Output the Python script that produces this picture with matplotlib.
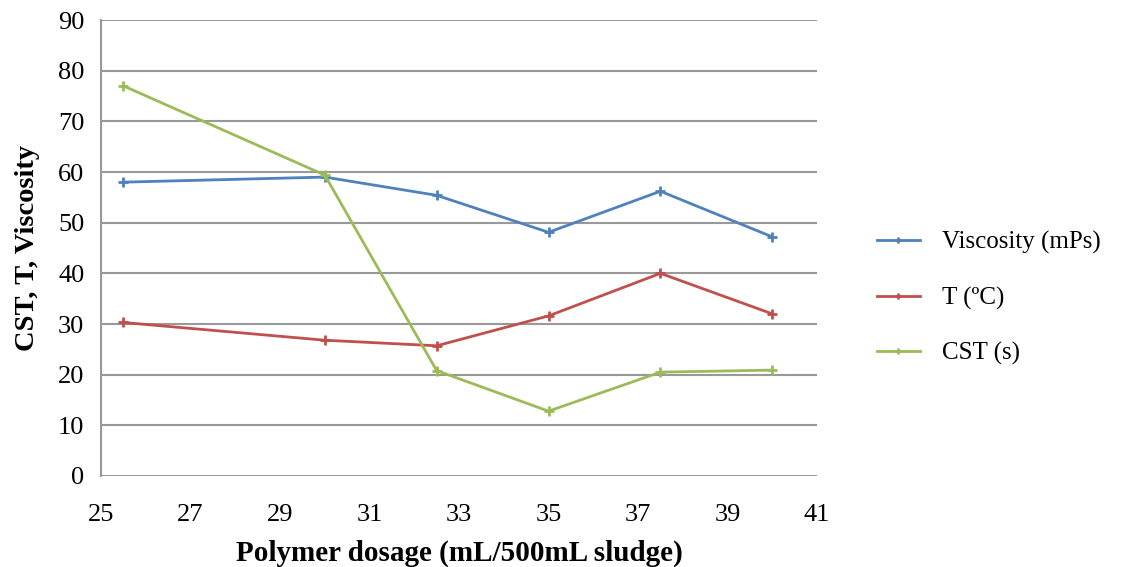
import matplotlib.pyplot as plt

plt.rcParams['font.family'] = ['Liberation Serif', 'DejaVu Serif']

# polymer dosage (mL/500mL sludge)
dosage = [25.5, 30, 32.5, 35, 37.5, 40]
viscosity = [58.0, 59.0, 55.4, 48.1, 56.2, 47.2]
temperature = [30.3, 26.8, 25.7, 31.6, 40.0, 32.0]
cst = [77.0, 59.4, 20.8, 12.8, 20.5, 20.9]

fig = plt.figure(figsize=(11.27, 5.67), dpi=100)
ax = fig.add_axes([0.0896, 0.1605, 0.6354, 0.8042])

ax.plot(dosage, viscosity, color='#4F81BD', lw=2, marker='+', ms=7, mew=2, label='Viscosity (mPs)')
ax.plot(dosage, temperature, color='#C0504D', lw=2, marker='+', ms=7, mew=2, label='T (ºC)')
ax.plot(dosage, cst, color='#9BBB59', lw=2, marker='+', ms=7, mew=2, label='CST (s)')

ax.set_xlim(25, 41)
ax.set_ylim(0, 90)
ax.set_xticks(range(25, 42, 2))
ax.set_yticks(range(0, 91, 10))
ax.yaxis.grid(True, color='#999999', lw=1.5)
ax.set_axisbelow(True)
for s in ['top', 'right', 'bottom']:
    ax.spines[s].set_visible(False)
ax.spines['left'].set_color('#999999')
ax.spines['left'].set_linewidth(1.5)
ax.tick_params(length=0, labelsize=19, pad=12)
ax.tick_params(axis='x', pad=20)

ax.set_xlabel('Polymer dosage (mL/500mL sludge)', fontsize=21, fontweight='bold', labelpad=10)
ax.set_ylabel('CST, T, Viscosity', fontsize=20.5, fontweight='bold', labelpad=13)

leg = ax.legend(loc='center left', bbox_to_anchor=(1.0, 0.39), frameon=False, fontsize=18,
                labelspacing=1.3, handlelength=1.7, handletextpad=0.9, borderaxespad=2.0)
for h in leg.legend_handles:
    h.set_markersize(5)
    h.set_linewidth(2)

fig.savefig('out.png', dpi=100)
